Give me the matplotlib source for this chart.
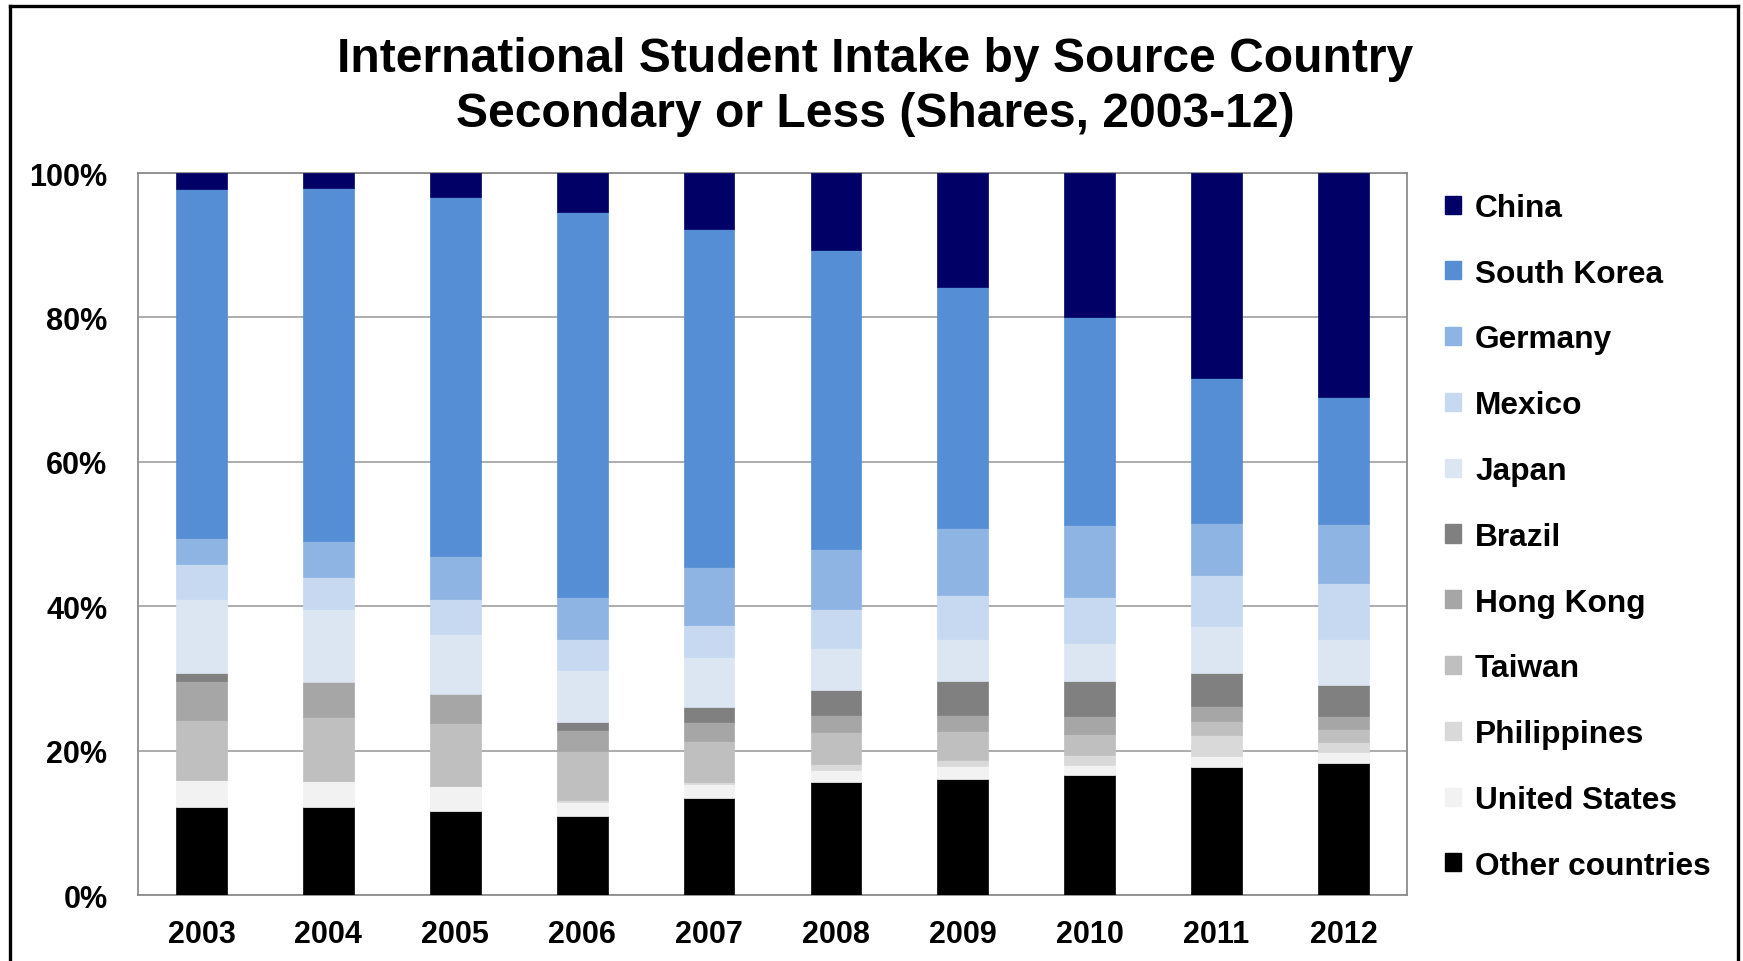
import numpy as np
import matplotlib.pyplot as plt
from matplotlib.lines import Line2D
from matplotlib.patches import Patch

plt.rcParams['font.family'] = ['Liberation Sans', 'DejaVu Sans']
plt.rcParams['font.weight'] = 'bold'

anos = ['2003', '2004', '2005', '2006', '2007', '2008', '2009', '2010', '2011', '2012']

# shares (%) per year
china       = [2.2, 2.1, 3.3, 5.4, 7.7, 10.6, 15.8, 20.0, 28.4, 31.0]
south_korea = [48.4, 48.8, 49.7, 53.3, 46.9, 41.5, 33.3, 28.7, 20.1, 17.6]
germany     = [3.6, 5.1, 6.0, 5.8, 8.0, 8.3, 9.4, 10.0, 7.2, 8.2]
mexico      = [4.8, 4.4, 4.8, 4.4, 4.4, 5.4, 6.0, 6.4, 7.1, 7.8]
japan       = [10.3, 10.1, 8.4, 7.2, 6.9, 5.8, 5.9, 5.3, 6.5, 6.3]
brazil      = [1.0, 0.0, 0.0, 1.1, 2.1, 3.4, 4.6, 4.8, 4.5, 4.3]
hong_kong   = [5.4, 4.8, 4.0, 2.8, 2.7, 2.4, 2.3, 2.5, 2.1, 1.8]
taiwan      = [8.4, 8.9, 8.7, 6.9, 5.6, 4.4, 4.0, 2.9, 2.0, 1.8]
philippines = [0.0, 0.0, 0.0, 0.2, 0.3, 0.9, 0.8, 1.4, 2.9, 1.4]
usa         = [3.7, 3.6, 3.4, 1.9, 2.0, 1.7, 1.9, 1.4, 1.5, 1.5]
outros      = [12.2, 12.2, 11.7, 11.0, 13.4, 15.6, 16.0, 16.6, 17.7, 18.3]

# stacking order, bottom -> top
series = [
    ('Other countries', outros, '#000000'),
    ('United States', usa, '#F2F2F2'),
    ('Philippines', philippines, '#D9D9D9'),
    ('Taiwan', taiwan, '#BFBFBF'),
    ('Hong Kong', hong_kong, '#A6A6A6'),
    ('Brazil', brazil, '#808080'),
    ('Japan', japan, '#DCE6F2'),
    ('Mexico', mexico, '#C6D9F1'),
    ('Germany', germany, '#8EB4E3'),
    ('South Korea', south_korea, '#558ED5'),
    ('China', china, '#000066'),
]


def main():
    fig = plt.figure(figsize=(17.43, 9.62), dpi=100)
    ax = fig.add_axes([0.0792, 0.0686, 0.7280, 0.7505])

    x = np.arange(len(anos))
    base = np.zeros(len(anos))
    for nome, vals, cor in series:
        vals = np.array(vals)
        ax.bar(x, vals, width=0.4, bottom=base, color=cor, edgecolor=cor,
               linewidth=0.5, zorder=3)
        base += vals

    ax.set_xlim(-0.5, len(anos) - 0.5)
    ax.set_ylim(0, 100)
    ax.set_yticks(np.arange(0, 101, 20))
    ax.set_yticklabels([f'{v}%' for v in range(0, 101, 20)])
    ax.set_xticks(x)
    ax.set_xticklabels(anos)
    ax.tick_params(axis='both', length=0, labelsize=22)
    ax.tick_params(axis='y', pad=22)
    ax.tick_params(axis='x', pad=17)
    ax.yaxis.grid(True, color='#A6A6A6', linewidth=1.3, zorder=0)
    for s in ax.spines.values():
        s.set_color('#8C8C8C')
        s.set_linewidth(1.3)

    handles = [Patch(facecolor=cor, edgecolor=cor) for _, _, cor in series[::-1]]
    labels = [nome for nome, _, _ in series[::-1]]
    fig.legend(handles, labels, loc='upper left', bbox_to_anchor=(0.829, 0.7985),
               frameon=False, fontsize=22.8, handlelength=0.5, handleheight=0.5,
               handletextpad=0.45, labelspacing=1.13, borderpad=0, borderaxespad=0)

    fig.text(0.502, 1 - 59 / 962, 'International Student Intake by Source Country',
             ha='center', va='center', fontsize=34.6, fontweight='bold')
    fig.text(0.502, 1 - 114.5 / 962, 'Secondary or Less (Shares, 2003-12)',
             ha='center', va='center', fontsize=34.6, fontweight='bold')

    # outer frame (left, top, right)
    fig.add_artist(Line2D([0.0057, 0.0057], [0, 0.9927], color='black', linewidth=2.4))
    fig.add_artist(Line2D([0.0057, 0.9971], [0.9927, 0.9927], color='black', linewidth=2.4))
    fig.add_artist(Line2D([0.9971, 0.9971], [0, 0.9927], color='black', linewidth=2.4))

    fig.savefig('out.png', dpi=100)


if __name__ == "__main__":
    main()
